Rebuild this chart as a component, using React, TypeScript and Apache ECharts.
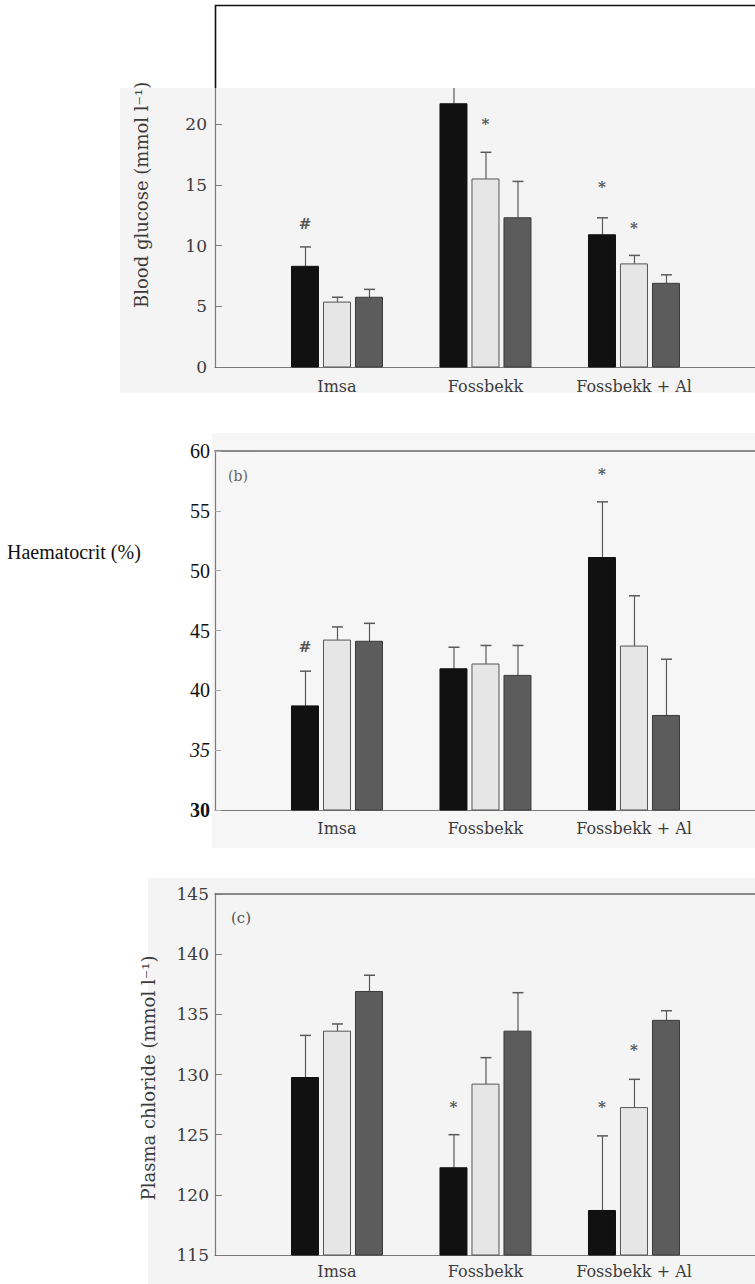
import React, { useEffect, useRef } from "react";
import * as echarts from "echarts";

// ---------- DATA ----------
const categories = ["Imsa", "Fossbekk", "Fossbekk + Al"];
const catPos = [1, 2, 3];

// (a) Blood glucose (mmol l-1)
const glucoseBlack = [8.3, 21.7, 10.9];
const glucoseBlackErr = [9.9, 23.5, 12.3];
const glucoseLight = [5.35, 15.5, 8.5];
const glucoseLightErr = [5.75, 17.7, 9.2];
const glucoseDark = [5.75, 12.3, 6.9];
const glucoseDarkErr = [6.4, 15.3, 7.6];
const glucoseTicks = [0, 5, 10, 15, 20];
// [category index, bar index, value, symbol]
const glucoseMarks: [number, number, number, string][] = [
  [0, 0, 11.8, "#"],
  [1, 1, 20.0, "*"],
  [2, 0, 14.8, "*"],
  [2, 1, 11.5, "*"],
];

// (b) Haematocrit (%)
const hctBlack = [38.7, 41.8, 51.1];
const hctBlackErr = [41.6, 43.6, 55.75];
const hctLight = [44.2, 42.2, 43.7];
const hctLightErr = [45.3, 43.75, 47.9];
const hctDark = [44.1, 41.25, 37.9];
const hctDarkErr = [45.6, 43.75, 42.6];
const hctMarks: [number, number, number, string][] = [
  [0, 0, 43.6, "#"],
  [2, 0, 58.1, "*"],
];

// (c) Plasma chloride (mmol l-1)
const clBlack = [129.75, 122.25, 118.7];
const clBlackErr = [133.25, 125.0, 124.9];
const clLight = [133.6, 129.2, 127.25];
const clLightErr = [134.2, 131.4, 129.6];
const clDark = [136.9, 133.6, 134.5];
const clDarkErr = [138.25, 136.8, 135.3];
const clMarks: [number, number, number, string][] = [
  [1, 0, 127.3, "*"],
  [2, 0, 127.3, "*"],
  [2, 1, 132.0, "*"],
];

// ---------- STYLE ----------
const SERIF = "'DejaVu Serif', 'Liberation Serif', serif";
const TIMES = "'Liberation Serif', 'Times New Roman', serif";
const AXIS_COLOR = "#7a7a7a";
const TEXT_GRAY = "#3c3c3c";
const barOffsets = [-32, 0, 32];
const barWidth = 27;
const barStyles = [
  { fill: "#111111", stroke: "#111111", lineWidth: 1 },
  { fill: "#e6e6e6", stroke: "#555555", lineWidth: 1 },
  { fill: "#5c5c5c", stroke: "#3a3a3a", lineWidth: 1 },
];

type Panel = {
  means: number[][];
  errs: number[][];
  marks: [number, number, number, string][];
  yMin: number;
  yMax: number;
};

const panels: Panel[] = [
  {
    means: [glucoseBlack, glucoseLight, glucoseDark],
    errs: [glucoseBlackErr, glucoseLightErr, glucoseDarkErr],
    marks: glucoseMarks,
    yMin: 0,
    yMax: 23,
  },
  {
    means: [hctBlack, hctLight, hctDark],
    errs: [hctBlackErr, hctLightErr, hctDarkErr],
    marks: hctMarks,
    yMin: 30,
    yMax: 60,
  },
  {
    means: [clBlack, clLight, clDark],
    errs: [clBlackErr, clLightErr, clDarkErr],
    marks: clMarks,
    yMin: 115,
    yMax: 145,
  },
];

const X_MIN = 0.1785;
const X_MAX = 3.815;

function buildOption() {
  const grid = [
    { left: 215, right: 0, top: 88, height: 279 },
    { left: 215, right: 0, top: 451, height: 359 },
    { left: 215, right: 0, top: 894, height: 361 },
  ];

  const xMargins = [11, 10, 8];
  const xAxis: any[] = [];
  for (let p = 0; p < 3; p++) {
    xAxis.push({
      type: "value",
      gridIndex: p,
      min: X_MIN,
      max: X_MAX,
      splitLine: { show: false },
      axisTick: { show: false },
      axisLine: { show: true, lineStyle: { color: AXIS_COLOR, width: 1.2 } },
      axisLabel: {
        customValues: catPos,
        formatter: (v: number) => categories[Math.round(v) - 1] ?? "",
        fontFamily: SERIF,
        fontSize: 16,
        color: TEXT_GRAY,
        margin: xMargins[p],
      },
    });
  }
  for (let p = 1; p < 3; p++) {
    xAxis.push({
      type: "value",
      gridIndex: p,
      position: "top",
      min: X_MIN,
      max: X_MAX,
      splitLine: { show: false },
      axisTick: { show: false },
      axisLabel: { show: false },
      axisLine: { show: true, lineStyle: { color: "#666", width: 1.5 } },
    });
  }

  const yAxis: any[] = [
    {
      type: "value",
      gridIndex: 0,
      min: 0,
      max: 23,
      interval: 5,
      splitLine: { show: false },
      axisLine: { show: true, lineStyle: { color: AXIS_COLOR, width: 1.2 } },
      axisTick: {
        show: true,
        inside: true,
        length: 7,
        customValues: glucoseTicks,
        lineStyle: { color: AXIS_COLOR },
      },
      axisLabel: {
        customValues: glucoseTicks,
        fontFamily: SERIF,
        fontSize: 17,
        color: TEXT_GRAY,
        margin: 8,
      },
    },
    {
      type: "value",
      gridIndex: 1,
      min: 30,
      max: 60,
      interval: 5,
      splitLine: { show: false },
      axisLine: { show: true, lineStyle: { color: AXIS_COLOR, width: 1.2 } },
      axisTick: { show: true, inside: true, length: 6, lineStyle: { color: "#aaa" } },
      axisLabel: {
        margin: 5,
        formatter: (v: number) =>
          v === 35 ? `{i|${v}}` : v === 30 ? `{b|${v}}` : `{n|${v}}`,
        rich: {
          n: { fontFamily: TIMES, fontSize: 20, color: "#111" },
          i: { fontFamily: TIMES, fontSize: 20, color: "#111", fontStyle: "italic" },
          b: { fontFamily: TIMES, fontSize: 20, color: "#111", fontWeight: "bold" },
        },
      },
    },
    {
      type: "value",
      gridIndex: 2,
      min: 115,
      max: 145,
      interval: 5,
      splitLine: { show: false },
      axisLine: { show: true, lineStyle: { color: AXIS_COLOR, width: 1.2 } },
      axisTick: { show: true, inside: true, length: 7, lineStyle: { color: AXIS_COLOR } },
      axisLabel: { fontFamily: SERIF, fontSize: 17, color: TEXT_GRAY, margin: 6 },
    },
  ];

  const series: any[] = [];
  panels.forEach((panel, p) => {
    for (let t = 0; t < 3; t++) {
      const data = categories.map((_, i) => [catPos[i], panel.means[t][i], panel.errs[t][i]]);
      series.push({
        type: "custom",
        name: `panel${p}-bar${t}`,
        xAxisIndex: p,
        yAxisIndex: p,
        coordinateSystem: "cartesian2d",
        data,
        renderItem: (params: any, api: any) => {
          const x = api.value(0);
          const v = api.value(1);
          const e = api.value(2);
          const base = api.coord([x, panel.yMin]);
          const top = api.coord([x, v]);
          const clipped = e > panel.yMax;
          const errPt = api.coord([x, Math.min(e, panel.yMax)]);
          const cx = base[0] + barOffsets[t];
          const children: any[] = [
            {
              type: "line",
              shape: { x1: cx + 0.5, y1: top[1], x2: cx + 0.5, y2: errPt[1] },
              style: { stroke: "#5a5a5a", lineWidth: 1.2 },
            },
          ];
          if (!clipped) {
            children.push({
              type: "line",
              shape: { x1: cx - 5, y1: errPt[1], x2: cx + 6, y2: errPt[1] },
              style: { stroke: "#5a5a5a", lineWidth: 1.5 },
            });
          }
          children.push({
            type: "rect",
            shape: {
              x: cx - barWidth / 2,
              y: top[1],
              width: barWidth,
              height: base[1] - top[1],
            },
            style: barStyles[t],
          });
          return { type: "group", children };
        },
        z: 3,
      });
    }
    series.push({
      type: "custom",
      name: `panel${p}-marks`,
      xAxisIndex: p,
      yAxisIndex: p,
      coordinateSystem: "cartesian2d",
      data: panel.marks.map((m) => [catPos[m[0]], m[2], m[1]]),
      renderItem: (params: any, api: any) => {
        const pt = api.coord([api.value(0), api.value(1)]);
        const off = barOffsets[api.value(2)];
        return {
          type: "text",
          x: pt[0] + off,
          y: pt[1],
          style: {
            text: panel.marks[params.dataIndex][3],
            fill: "#555",
            fontFamily: SERIF,
            fontSize: 15,
            fontWeight: "bold",
            align: "center",
            verticalAlign: "middle",
          },
        };
      },
      z: 4,
    });
  });

  const graphic: any[] = [
    { type: "rect", z: -10, silent: true, shape: { x: 120, y: 88, width: 635, height: 305 }, style: { fill: "#f4f4f4" } },
    { type: "rect", z: -10, silent: true, shape: { x: 212, y: 433, width: 543, height: 415 }, style: { fill: "#f6f6f6" } },
    { type: "rect", z: -10, silent: true, shape: { x: 148, y: 878, width: 607, height: 406 }, style: { fill: "#f4f4f4" } },
    {
      type: "polyline",
      z: 10,
      silent: true,
      shape: { points: [[215.5, 88], [215.5, 5.5], [755, 5.5]] },
      style: { stroke: "#111", lineWidth: 1.6, fill: null },
    },
    {
      type: "text",
      z: 10,
      x: 141,
      y: 308,
      rotation: Math.PI / 2,
      style: {
        text: "Blood glucose (mmol l⁻¹)",
        fill: TEXT_GRAY,
        fontFamily: SERIF,
        fontSize: 18,
        align: "left",
        verticalAlign: "middle",
      },
    },
    {
      type: "text",
      z: 10,
      x: 7,
      y: 552,
      style: {
        text: "Haematocrit (%)",
        fill: "#111",
        fontFamily: TIMES,
        fontSize: 20,
        align: "left",
        verticalAlign: "middle",
      },
    },
    {
      type: "text",
      z: 10,
      x: 148,
      y: 1078,
      rotation: Math.PI / 2,
      style: {
        text: "Plasma chloride (mmol l⁻¹)",
        fill: TEXT_GRAY,
        fontFamily: SERIF,
        fontSize: 18,
        align: "center",
        verticalAlign: "middle",
      },
    },
    {
      type: "text",
      z: 10,
      x: 228,
      y: 476,
      style: { text: "(b)", fill: "#666", fontFamily: SERIF, fontSize: 14, align: "left", verticalAlign: "middle" },
    },
    {
      type: "text",
      z: 10,
      x: 231,
      y: 918,
      style: { text: "(c)", fill: "#555", fontFamily: SERIF, fontSize: 15, align: "left", verticalAlign: "middle" },
    },
  ];

  return {
    animation: false,
    backgroundColor: "#ffffff",
    grid,
    xAxis,
    yAxis,
    series,
    graphic,
  };
}

export default function App() {
  const ref = useRef<HTMLDivElement>(null);
  useEffect(() => {
    if (!ref.current) return;
    const chart = echarts.init(ref.current, undefined, { renderer: "svg" });
    chart.setOption(buildOption() as any);
    return () => chart.dispose();
  }, []);
  return (
    <div
      ref={ref}
      style={{ position: "absolute", left: 0, top: 0, width: 755, height: 1284 }}
    />
  );
}
